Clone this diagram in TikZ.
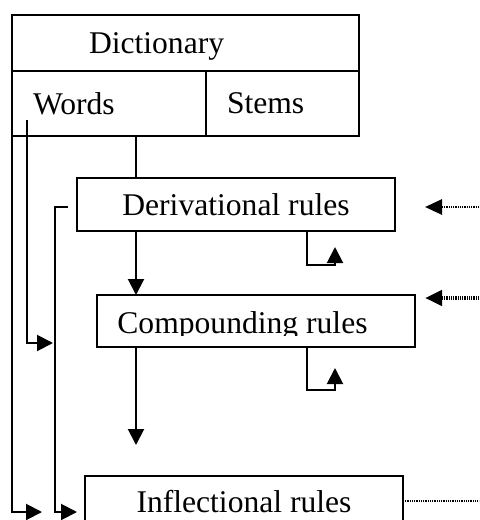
\documentclass[tikz,border=0pt]{standalone}
\usepackage{fontspec}
\setmainfont{Liberation Serif}
\usetikzlibrary{arrows.meta,positioning}

\tikzset{
  txt/.style={font=\fontsize{15.8}{19}\selectfont},
  cell/.style={txt, draw, line width=1pt, outer sep=0pt, inner ysep=0pt, align=left},
  rulebox/.style={txt, draw, line width=1pt, outer sep=0pt, inner sep=0pt,
    minimum width=159pt, minimum height=26.5pt, text depth=0pt},
  flow/.style={line width=1pt, -{Triangle[length=8pt,width=8pt]}},
  feed/.style={line width=1.4pt, dash pattern=on 0.5pt off 0.4pt, -{Triangle[length=8.5pt,width=7.5pt]}}
}

\begin{document}
\begin{tikzpicture}[x=0.5pt,y=-0.5pt]
\useasboundingbox (0,0) rectangle (479,520);
\clip (0,0) rectangle (479,520);

% dictionary
\node[cell, anchor=north west, minimum height=28pt, inner xsep=38.5pt, text width=96.5pt, text depth=0pt] (dict) at (12,15) {Dictionary};
\node[cell, below right=0pt of dict.south west, minimum height=32.5pt, inner xsep=10.5pt, text width=76pt] (words) {Words};
\node[cell, right=0pt of words, minimum height=32.5pt, inner xsep=10.5pt, text width=55.5pt] (stems) {Stems};

% rules
\node[rulebox, anchor=north west] (deriv) at (77,178) {Derivational rules};
\node[rulebox, anchor=north west, minimum height=26pt] (comp) at (97,295) {};
\begin{scope}
  \clip (97,295) rectangle (415,335);
  \node[txt, anchor=base west, inner sep=0pt] (comptext) at (117,333) {Compounding rules};
\end{scope}
\node[rulebox, anchor=north west, minimum height=25pt] (infl) at (85,476) {Inflectional rules};

% free ends
\coordinate (trunk) at (136,0);
\coordinate (loop) at (307,0);
\coordinate (down) at (136,445);
\coordinate (wstart) at (27,120);
\coordinate (wend) at (53,343);
\coordinate (outer) at (42,512);
\coordinate (stub) at (68,207);
\coordinate (bend) at (55,207);
\coordinate (dend) at (77,512);
\coordinate (inD) at (479,207);
\coordinate (inC) at (479,298);
\coordinate (outI) at (479,501);

% main flow
\draw[line width=1pt] (words.south -| trunk) -- (deriv.north -| trunk);
\draw[flow] (deriv.south -| trunk) -- (comp.north -| trunk);
\draw[flow] (comp.south -| trunk) -- (down);

% self loops
\draw[flow] (deriv.south -| loop) -- ++(0,34) -- ++(28,0) -- ++(0,-18);
\draw[flow] (comp.south -| loop) -- ++(0,43) -- ++(28,0) -- ++(0,-22);

% side lines
\draw[flow] (words.south west) |- (outer);
\draw[flow] (wstart) |- (wend);
\draw[flow] (stub) -- (bend) |- (dend);

% from the right
\draw[feed] (inD) -- ++(-54,0);
\draw[feed, line width=2.4pt] (inC) -- ++(-54,0);
\draw[line width=1pt, dash pattern=on 0.5pt off 0.4pt] (infl.east) -- (outI);
\end{tikzpicture}
\end{document}
